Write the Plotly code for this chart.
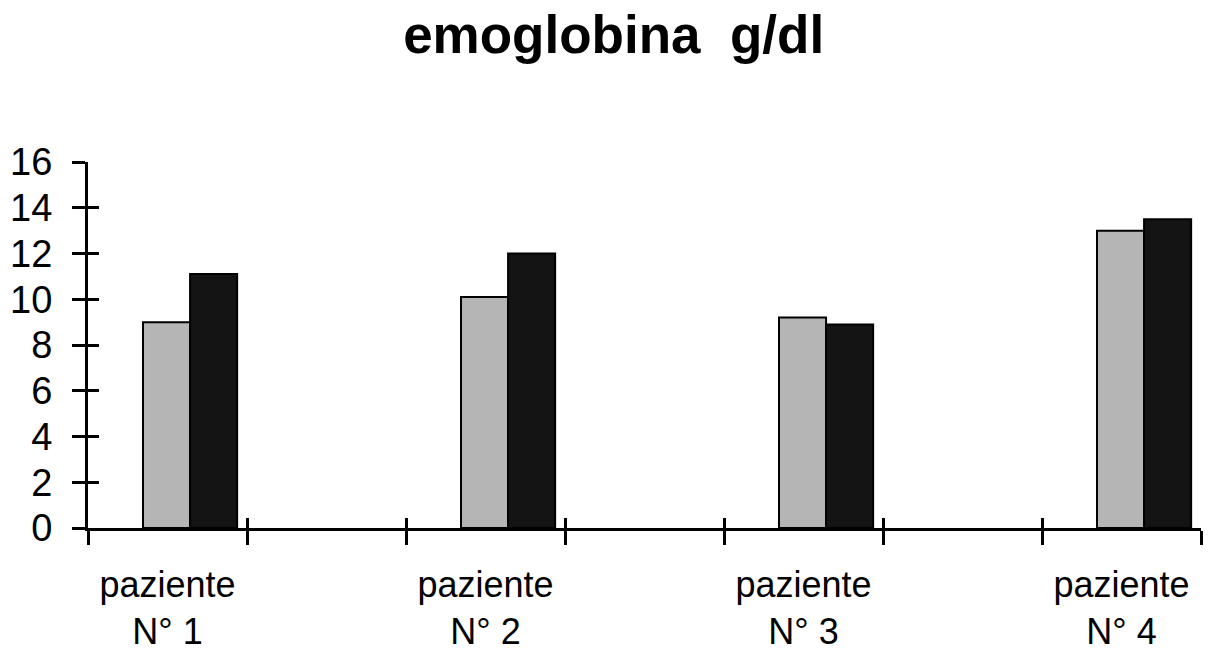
import plotly.graph_objects as go

# Data
patients = ["paziente<br>N° 1", "paziente<br>N° 2", "paziente<br>N° 3", "paziente<br>N° 4"]
hb_first = [9.0, 10.1, 9.2, 13.0]
hb_second = [11.1, 12.0, 8.9, 13.5]
y_ticks = [0, 2, 4, 6, 8, 10, 12, 14, 16]

# Category layout: each patient occupies one slot, separated by an empty slot
n_slots = 2 * len(patients) - 1
centers = [2 * i + 0.5 for i in range(len(patients))]
slot_edges = list(range(n_slots + 1))

bar_w = 0.296
font_family = "Liberation Sans, Arial, sans-serif"

fig = go.Figure()
fig.add_trace(go.Bar(
    x=centers, y=hb_first, width=bar_w, offset=-0.154,
    marker=dict(color="#b5b5b5", line=dict(color="#000000", width=2)),
    showlegend=False, hoverinfo="y",
))
fig.add_trace(go.Bar(
    x=centers, y=hb_second, width=bar_w, offset=0.142,
    marker=dict(color="#141414", line=dict(color="#000000", width=2)),
    showlegend=False, hoverinfo="y",
))

common_x = dict(range=[0, n_slots], showgrid=False, zeroline=False, fixedrange=True, automargin=False)
common_y = dict(range=[0, 16], showgrid=False, zeroline=False, fixedrange=True, automargin=False)

fig.update_layout(
    width=1208, height=656,
    margin=dict(l=88, r=7, t=162, b=128, pad=0),
    paper_bgcolor="white", plot_bgcolor="white",
    barmode="overlay",
    font=dict(family=font_family, color="#000000"),
    title=dict(
        text="emoglobina \u00a0g/dl",
        x=0.508, xref="container", xanchor="center",
        y=0.948, yref="container", yanchor="middle",
        font=dict(size=53, family=font_family, weight="bold", color="#000000"),
        automargin=False,
    ),
    xaxis=dict(
        **common_x, showline=True, linecolor="#000000", linewidth=3,
        ticks="outside", ticklen=14, tickwidth=3, tickcolor="#000000",
        tickvals=slot_edges, showticklabels=False,
    ),
    xaxis2=dict(
        **common_x, overlaying="x", anchor="y", side="bottom", showline=False,
        ticks="inside", ticklen=10, tickwidth=3, tickcolor="#000000",
        tickvals=slot_edges, showticklabels=False,
    ),
    xaxis3=dict(
        **common_x, overlaying="x", anchor="y", side="bottom", showline=False,
        ticks="", tickvals=centers, ticktext=patients,
        tickfont=dict(size=36, family=font_family, color="#000000"),
        ticklabelstandoff=32,
    ),
    yaxis=dict(
        **common_y, showline=True, linecolor="#000000", linewidth=3,
        ticks="outside", ticklen=13, tickwidth=3, tickcolor="#000000",
        tickvals=y_ticks, tickfont=dict(size=38, family=font_family, color="#000000"),
        ticklabelstandoff=12,
    ),
    yaxis2=dict(
        **common_y, overlaying="y", anchor="x", side="left", showline=False,
        ticks="inside", ticklen=11, tickwidth=3, tickcolor="#000000",
        tickvals=y_ticks, showticklabels=False,
    ),
)

# Placeholder traces so the overlay axes are instantiated
fig.add_trace(go.Scatter(x=[None], y=[None], xaxis="x2", yaxis="y", showlegend=False, hoverinfo="skip"))
fig.add_trace(go.Scatter(x=[None], y=[None], xaxis="x3", yaxis="y", showlegend=False, hoverinfo="skip"))
fig.add_trace(go.Scatter(x=[None], y=[None], xaxis="x", yaxis="y2", showlegend=False, hoverinfo="skip"))

fig.write_html("out.html")
